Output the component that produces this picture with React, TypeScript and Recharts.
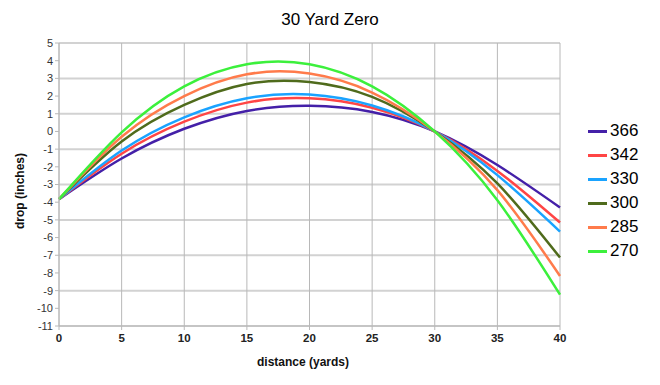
import React from 'react';
import { LineChart, Line, XAxis, YAxis, CartesianGrid, Label } from 'recharts';

// distance in yards, drop in inches
const distances = [0, 5, 10, 15, 20, 25, 30, 35, 40];
const xTicks = [0, 5, 10, 15, 20, 25, 30, 35, 40];
const yTicks = [-11, -10, -9, -8, -7, -6, -5, -4, -3, -2, -1, 0, 1, 2, 3, 4, 5];

const drop366 = [-3.83, -1.53, 0.15, 1.16, 1.45, 1.1, 0, -1.9, -4.3];
const drop342 = [-3.83, -1.26, 0.55, 1.63, 1.87, 1.34, 0, -2.23, -5.15];
const drop330 = [-3.83, -1.08, 0.8, 1.88, 2.09, 1.47, 0, -2.47, -5.66];
const drop300 = [-3.83, -0.57, 1.5, 2.68, 2.79, 1.95, 0, -2.94, -7.13];
const drop285 = [-3.83, -0.3, 2.0, 3.23, 3.27, 2.2, 0, -3.32, -8.17];
const drop270 = [-3.83, -0.05, 2.55, 3.8, 3.8, 2.55, 0, -3.89, -9.23];

const series = [
  { key: '366', values: drop366, color: '#4420a8' },
  { key: '342', values: drop342, color: '#ff4545' },
  { key: '330', values: drop330, color: '#1aa3ff' },
  { key: '300', values: drop300, color: '#4f6b1c' },
  { key: '285', values: drop285, color: '#ff7b4b' },
  { key: '270', values: drop270, color: '#3cf03c' },
];

const data = distances.map((d, i) => {
  const row: Record<string, number> = { distance: d };
  series.forEach((s) => {
    row[s.key] = s.values[i];
  });
  return row;
});

const font = '"Liberation Sans", Arial, sans-serif';

export default function App() {
  return (
    <div
      style={{
        position: 'absolute',
        left: 0,
        top: 0,
        width: 660,
        height: 385,
        background: '#fff',
        fontFamily: font,
      }}
    >
      <div
        style={{
          position: 'absolute',
          left: 0,
          top: 10,
          width: 660,
          textAlign: 'center',
          fontSize: 17,
          lineHeight: '20px',
          color: '#000',
        }}
      >
        30 Yard Zero
      </div>
      <LineChart
        width={660}
        height={385}
        data={data}
        margin={{ top: 43, right: 100, bottom: 19, left: 0 }}
      >
        <CartesianGrid vertical={false} stroke="#d2d2d2" strokeWidth={2} />
        <CartesianGrid horizontal={false} stroke="#b8b8b8" strokeWidth={1} />
        <XAxis
          dataKey="distance"
          type="number"
          domain={[0, 40]}
          ticks={xTicks}
          height={40}
          tickSize={4}
          tickMargin={4}
          axisLine={{ stroke: '#b8b8b8' }}
          tickLine={{ stroke: '#b8b8b8' }}
          tick={{ fill: '#222', fontSize: 11.5, fontWeight: 'bold', fontFamily: font }}
        >
          <Label
            content={() => (
              <text
                x={303}
                y={366}
                textAnchor="middle"
                fontSize={12}
                fontWeight="bold"
                fontFamily={font}
                fill="#111"
              >
                distance (yards)
              </text>
            )}
          />
        </XAxis>
        <YAxis
          type="number"
          domain={[-11, 5]}
          ticks={yTicks}
          width={59}
          tickSize={4}
          tickMargin={2}
          axisLine={{ stroke: '#b8b8b8' }}
          tickLine={{ stroke: '#b8b8b8' }}
          tick={{ fill: '#333', fontSize: 11, fontFamily: font }}
        >
          <Label
            content={() => (
              <text
                x={24}
                y={191}
                transform="rotate(-90, 24, 191)"
                textAnchor="middle"
                fontSize={12}
                fontWeight="bold"
                fontFamily={font}
                fill="#111"
              >
                drop (inches)
              </text>
            )}
          />
        </YAxis>
        {series.map((s) => (
          <Line
            key={s.key}
            dataKey={s.key}
            type="natural"
            stroke={s.color}
            strokeWidth={2.5}
            dot={false}
            activeDot={false}
            isAnimationActive={false}
          />
        ))}
      </LineChart>
      <div style={{ position: 'absolute', left: 588, top: 119 }}>
        {series.map((s) => (
          <div
            key={s.key}
            style={{ display: 'flex', alignItems: 'center', height: 24 }}
          >
            <div style={{ width: 19, height: 3, background: s.color }} />
            <span style={{ marginLeft: 3, fontSize: 17, color: '#000' }}>{s.key}</span>
          </div>
        ))}
      </div>
    </div>
  );
}
